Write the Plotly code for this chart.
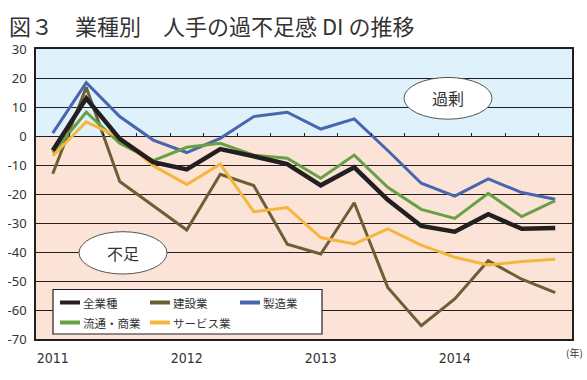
import plotly.graph_objects as go

quarters = ["2011Q1", "2011Q2", "2011Q3", "2011Q4",
            "2012Q1", "2012Q2", "2012Q3", "2012Q4",
            "2013Q1", "2013Q2", "2013Q3", "2013Q4",
            "2014Q1", "2014Q2", "2014Q3", "2014Q4"]
year_ticks = ["2011Q1", "2012Q1", "2013Q1", "2014Q1"]
year_labels = ["2011", "2012", "2013", "2014"]

all_industries = [-5, 13, -1, -9, -11.5, -4.5, -7, -9.7, -17, -10.8, -22, -31, -33, -27, -32, -31.7]
construction = [-13, 16.8, -15.7, -24, -32.4, -13.2, -17.1, -37.3, -40.7, -23, -52.2, -65.4, -56.2, -43, -49.4, -54]
manufacturing = [1, 18.4, 6.7, -1.4, -5.7, -0.8, 6.7, 8.2, 2.4, 5.9, -5, -16.3, -20.7, -14.8, -19.5, -21.8]
distribution = [-5.8, 8.2, -2.5, -8.5, -3.9, -2.5, -6.6, -7.7, -14.6, -6.6, -17.7, -25.3, -28.4, -19.8, -27.8, -22.3]
services = [-6.9, 4.9, -0.5, -10.3, -16.7, -9.7, -26.1, -24.7, -35, -37.2, -32, -37.6, -41.8, -44.5, -43.3, -42.5]

y_tick_vals = [30, 20, 10, 0, -10, -20, -30, -40, -50, -60, -70]
y_tick_text = ["30", "20", "10", "0", "-10", "-20", "-30", "-40", "-50", "-60", "-70"]

names = ["全業種", "建設業", "製造業", "流通・商業", "サービス業"]
colors = ["#231f20", "#6d5f35", "#4766ad", "#69a045", "#f4b63d"]
widths = [4.5, 3, 3, 3, 3]
series = [all_industries, construction, manufacturing, distribution, services]

JP = "Noto Sans CJK JP"

fig = go.Figure()
draw_order = [1, 2, 3, 4, 0]
for i in draw_order:
    fig.add_trace(go.Scatter(x=quarters, y=series[i], mode="lines", name=names[i],
                             line=dict(color=colors[i], width=widths[i]),
                             showlegend=False, hoverinfo="skip"))
# dummy trace for the zero-line tick axis
fig.add_trace(go.Scatter(x=[], y=[], xaxis="x2", yaxis="y", showlegend=False, hoverinfo="skip"))

shapes = [
    dict(type="rect", xref="paper", yref="y", x0=0, x1=1, y0=0, y1=30,
         fillcolor="#dff1fb", line=dict(width=0), layer="below"),
    dict(type="rect", xref="paper", yref="y", x0=0, x1=1, y0=-70, y1=0,
         fillcolor="#fbe4d7", line=dict(width=0), layer="below"),
    # ellipses
    dict(type="circle", xref="x", yref="y", x0=10.485, x1=13.112, y0=5.8, y1=20.2,
         fillcolor="white", line=dict(color="#555555", width=1), layer="above"),
    dict(type="circle", xref="x", yref="y", x0=0.784, x1=3.41, y0=-47.6, y1=-33.0,
         fillcolor="white", line=dict(color="#555555", width=1), layer="above"),
]

W, H, L, T = 536.0, 290.0, 36.0, 49.0
def px(xp):
    return (xp - L) / W
def py(yp):
    return (T + H - yp) / H

annotations = [
    dict(text="図３　業種別　人手の過不足感 DI の推移", xref="paper", yref="paper",
         x=px(7), y=py(25), xanchor="left", yanchor="middle", showarrow=False,
         font=dict(family=JP, size=22, color="#333333")),
    dict(text="過剰", xref="x", yref="y", x=11.8, y=13, showarrow=False,
         font=dict(family=JP, size=16, color="#333333")),
    dict(text="不足", xref="x", yref="y", x=2.1, y=-40.3, showarrow=False,
         font=dict(family=JP, size=16, color="#333333")),
    dict(text="(年)", xref="paper", yref="paper", x=px(585), y=py(352), xanchor="right",
         yanchor="middle", showarrow=False,
         font=dict(family=JP, size=10, color="#333333")),
]

# legend box (drawn manually)
shapes.append(dict(type="rect", xref="paper", yref="paper", x0=px(53), x1=px(322),
                   y0=py(334), y1=py(289.5), fillcolor="white",
                   line=dict(color="#231f20", width=1.2), layer="above"))
legend_pos = [(60, 302.5), (150, 302.5), (240, 302.5), (60, 322.5), (150, 322.5)]
for k in range(5):
    x0, yy = legend_pos[k]
    shapes.append(dict(type="line", xref="paper", yref="paper", x0=px(x0), x1=px(x0 + 20),
                       y0=py(yy), y1=py(yy), line=dict(color=colors[k], width=4),
                       layer="above"))
    annotations.append(dict(text=names[k], xref="paper", yref="paper", x=px(x0 + 21),
                            y=py(yy), xanchor="left", yanchor="middle", showarrow=False,
                            font=dict(family=JP, size=11.5, color="#333333")))

fig.update_layout(
    width=587, height=380,
    margin=dict(l=36, r=15, t=49, b=41, autoexpand=False),
    paper_bgcolor="white", plot_bgcolor="white",
    shapes=shapes, annotations=annotations,
    xaxis=dict(type="category", categoryorder="array", categoryarray=quarters,
               range=[-0.5, 15.5], tickmode="array", tickvals=year_ticks, ticktext=year_labels,
               showgrid=False, zeroline=False, showline=True, mirror=True, automargin=False,
               linecolor="#231f20", linewidth=1.5, ticks="outside", ticklen=5,
               tickcolor="rgba(0,0,0,0)",
               tickfont=dict(family="Liberation Sans Narrow, DejaVu Sans Condensed, Liberation Sans, sans-serif",
                             size=14, color="#333333")),
    xaxis2=dict(overlaying="x", anchor="free", position=0.7, range=[-0.5, 15.5],
                tickmode="array", tickvals=[k + 0.5 for k in range(15)], automargin=False,
                ticks="inside", ticklen=3, tickwidth=1, tickcolor="#231f20",
                showticklabels=False, showgrid=False, zeroline=False, showline=False),
    yaxis=dict(range=[-70, 30], tickmode="array", tickvals=y_tick_vals, ticktext=y_tick_text,
               showgrid=True, gridcolor="#231f20", gridwidth=1, automargin=False,
               zeroline=True, zerolinecolor="#231f20", zerolinewidth=1,
               showline=True, mirror=True, linecolor="#231f20", linewidth=1.5,
               ticks="outside", ticklen=5, tickcolor="rgba(0,0,0,0)",
               tickfont=dict(family="Noto Sans, sans-serif", size=13, color="#333333")),
)

fig.write_html("out.html", config={"displayModeBar": False},
               post_script="document.body.style.margin='0';document.body.style.overflow='hidden';")
